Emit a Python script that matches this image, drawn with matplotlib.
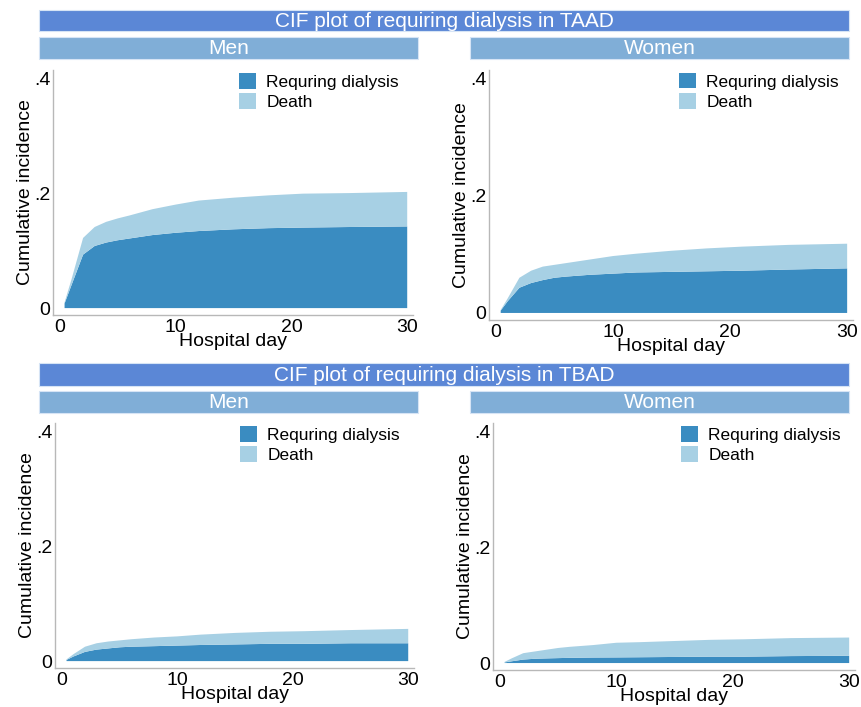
import matplotlib
matplotlib.use("Agg")
import matplotlib.pyplot as plt
from matplotlib.patches import Rectangle, Patch

plt.rcParams['font.family'] = ['Liberation Sans', 'DejaVu Sans']

days = [0.4, 1, 2, 3, 4, 5, 6, 8, 10, 12, 15, 18, 21, 25, 30]

# TAAD men
taad_men_dialysis = [0.008, 0.040, 0.093, 0.108, 0.114, 0.118, 0.121, 0.127, 0.131, 0.134, 0.137, 0.139, 0.140, 0.141, 0.142]
taad_men_total    = [0.010, 0.050, 0.122, 0.141, 0.150, 0.156, 0.161, 0.172, 0.180, 0.187, 0.192, 0.196, 0.199, 0.200, 0.202]
# TAAD women
taad_women_dialysis = [0.004, 0.020, 0.043, 0.051, 0.056, 0.060, 0.062, 0.065, 0.067, 0.069, 0.070, 0.071, 0.072, 0.074, 0.076]
taad_women_total    = [0.005, 0.025, 0.060, 0.072, 0.079, 0.082, 0.085, 0.091, 0.097, 0.101, 0.106, 0.110, 0.113, 0.116, 0.118]
# TBAD men
tbad_men_dialysis = [0.002, 0.008, 0.016, 0.020, 0.022, 0.024, 0.025, 0.026, 0.027, 0.028, 0.029, 0.030, 0.030, 0.031, 0.031]
tbad_men_total    = [0.003, 0.012, 0.025, 0.031, 0.034, 0.036, 0.038, 0.041, 0.043, 0.046, 0.049, 0.051, 0.052, 0.054, 0.056]
# TBAD women
tbad_women_dialysis = [0.001, 0.003, 0.006, 0.0074, 0.008, 0.0085, 0.009, 0.0095, 0.0097, 0.010, 0.0105, 0.011, 0.011, 0.012, 0.0125]
tbad_women_total    = [0.002, 0.008, 0.017, 0.020, 0.023, 0.026, 0.028, 0.031, 0.035, 0.036, 0.038, 0.040, 0.041, 0.043, 0.044]

titles = ["CIF plot of requiring dialysis in TAAD", "CIF plot of requiring dialysis in TBAD"]
panels = ["Men", "Women"]
legend_labels = ["Requring dialysis", "Death"]
x_ticks = [0, 10, 20, 30]
y_ticks = [0, 0.2, 0.4]
y_ticklabels = ["0", ".2", ".4"]

DARK = "#3A8CC1"
LIGHT = "#A7D0E4"
TITLE_BG = "#5B87D6"
STRIP_BG = "#80AED7"
SPINE = "#B8B8B8"

W, H = 861, 707
fig = plt.figure(figsize=(W / 100, H / 100), dpi=100)

def fx(px):
    return px / W

def fy(py):
    return 1 - py / H

def box(x0, y0, x1, y1, color, text, fs):
    r = Rectangle((fx(x0), fy(y1)), fx(x1) - fx(x0), fy(y0) - fy(y1),
                  transform=fig.transFigure, facecolor=color,
                  edgecolor="#D6E4F5", linewidth=0.8, zorder=1)
    fig.patches.append(r)
    fig.text((fx(x0) + fx(x1)) / 2, (fy(y0) + fy(y1)) / 2 - 0.001, text,
             color="white", fontsize=fs, ha="center", va="center")

# panel geometry in pixels: (left, top, right, bottom)
axes_px = [
    [(53, 70, 413, 315), (489, 70, 853, 320)],
    [(55, 423, 414, 668), (493, 423, 855, 670)],
]
title_px = [(39, 10, 849, 31), (39, 363, 849, 386)]
strip_px = [[(39, 37, 418, 59), (470, 37, 849, 59)],
            [(39, 391, 418, 413), (470, 391, 849, 413)]]

data = [
    [(taad_men_dialysis, taad_men_total), (taad_women_dialysis, taad_women_total)],
    [(tbad_men_dialysis, tbad_men_total), (tbad_women_dialysis, tbad_women_total)],
]

for r in range(2):
    box(*title_px[r], TITLE_BG, titles[r], 15)
    for c in range(2):
        box(*strip_px[r][c], STRIP_BG, panels[c], 15)
        l, t, rr, b = axes_px[r][c]
        ax = fig.add_axes([fx(l), fy(b), fx(rr) - fx(l), fy(t) - fy(b)])
        dial, total = data[r][c]
        death = [tt - d for tt, d in zip(total, dial)]
        ax.stackplot(days, dial, death, colors=[DARK, LIGHT], linewidth=0)
        ax.set_xlim(-0.6, 30.5)
        ax.set_ylim(-0.012, 0.414)
        ax.set_xticks(x_ticks)
        ax.set_yticks(y_ticks)
        ax.set_yticklabels(y_ticklabels)
        ax.tick_params(length=0, labelsize=14, pad=2)
        ax.tick_params(axis="x", pad=3)
        for s in ["top", "right"]:
            ax.spines[s].set_visible(False)
        for s in ["left", "bottom"]:
            ax.spines[s].set_color(SPINE)
            ax.spines[s].set_linewidth(1.0)
        ax.set_xlabel("Hospital day", fontsize=14, labelpad=-2)
        ax.set_ylabel("Cumulative incidence", fontsize=14, labelpad=0)
        handles = [Patch(facecolor=DARK), Patch(facecolor=LIGHT)]
        ax.legend(handles, legend_labels, loc="upper right", frameon=False,
                  fontsize=12.5, handlelength=1.0, handleheight=1.0,
                  handletextpad=0.6, labelspacing=0.2,
                  bbox_to_anchor=(0.99, 1.03), borderaxespad=0.2)

fig.savefig("out.png", dpi=100)
